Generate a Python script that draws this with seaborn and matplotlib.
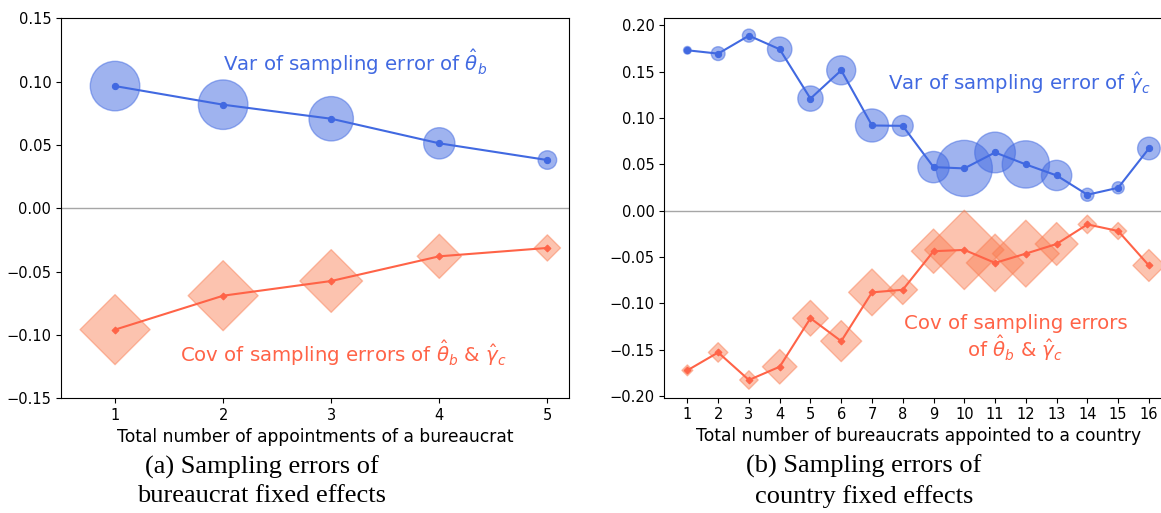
import matplotlib
matplotlib.use("Agg")
import matplotlib.pyplot as plt
import numpy as np
import pandas as pd
import seaborn as sns

# ---- panel (a): bureaucrat fixed effects, by number of appointments ----
appointments = [1, 2, 3, 4, 5]
var_theta = [0.0965, 0.0818, 0.0707, 0.0513, 0.0381]
cov_theta_gamma_a = [-0.0958, -0.0690, -0.0574, -0.0379, -0.0313]
share_a = [29.9, 29.9, 24.0, 11.9, 4.2]          # % of observations

# ---- panel (b): country fixed effects, by number of bureaucrats ----
bureaucrats = list(range(1, 17))
var_gamma = [0.1731, 0.1695, 0.1889, 0.1742, 0.1210, 0.1515, 0.0920, 0.0916,
             0.0471, 0.0457, 0.0629, 0.0500, 0.0381, 0.0173, 0.0248, 0.0672]
cov_theta_gamma_b = [-0.1721, -0.1528, -0.1825, -0.1682, -0.1159, -0.1406,
                     -0.0880, -0.0852, -0.0436, -0.0422, -0.0562, -0.0462,
                     -0.0358, -0.0147, -0.0218, -0.0590]
share_b = [0.43, 1.38, 1.24, 4.33, 4.62, 6.10, 7.93, 3.16,
           7.12, 22.81, 11.99, 16.20, 6.67, 1.24, 1.06, 3.71]   # % of observations

xlabels = ["Total number of appointments of a bureaucrat",
           "Total number of bureaucrats appointed to a country"]
captions = ["(a) Sampling errors of\nbureaucrat fixed effects",
            "(b) Sampling errors of\ncountry fixed effects"]

BLUE = "#4169E1"
RED = "#FF6347"
RED_FILL = "#FA7A4E"

W, H = 1161, 513
fig = plt.figure(figsize=(W / 100, H / 100), dpi=100)
ax_a = fig.add_axes([61 / W, 1 - 398.3 / H, 508 / W, 380 / H])
ax_b = fig.add_axes([664.3 / W, 1 - 397.7 / H, 507.7 / W, 379.4 / H])


def draw_panel(ax, x, var, cov, share, area_per_pct):
    df = pd.DataFrame({"x": x, "var": var, "cov": cov, "share": share})
    smax = max(share)
    size_kw = dict(size="share", sizes=(0, area_per_pct * smax),
                   size_norm=(0, smax), legend=False)
    sns.scatterplot(data=df, x="x", y="var", marker="o", color=BLUE,
                    edgecolor=BLUE, linewidth=1.0, alpha=0.5, ax=ax, **size_kw)
    sns.scatterplot(data=df, x="x", y="cov", marker="D", color=RED_FILL,
                    edgecolor=RED_FILL, linewidth=1.0, alpha=0.45, ax=ax, **size_kw)
    sns.lineplot(data=df, x="x", y="var", color=BLUE, lw=1.5, marker="o",
                 markersize=4.5, markeredgecolor=BLUE, errorbar=None, ax=ax)
    sns.lineplot(data=df, x="x", y="cov", color=RED, lw=1.5, marker="D",
                 markersize=3.5, markeredgecolor=RED, errorbar=None, ax=ax)
    ax.axhline(0, color="#a6a6a6", lw=1.0, zorder=0.5)
    ax.set_ylabel("")
    ax.tick_params(labelsize=10.5)


draw_panel(ax_a, appointments, var_theta, cov_theta_gamma_a, share_a, 42.5)
draw_panel(ax_b, bureaucrats, var_gamma, cov_theta_gamma_b, share_b, 71.5)

ax_a.set_xlim(0.5, 5.2)
ax_a.set_ylim(-0.15, 0.15)
ax_a.set_xticks(appointments)
ax_a.set_yticks(np.arange(-0.15, 0.151, 0.05))

ax_b.set_xlim(0.25, 16.75)
ax_b.set_ylim(-0.2016, 0.2076)
ax_b.set_xticks(bureaucrats)
ax_b.set_yticks(np.arange(-0.20, 0.201, 0.05))

for ax, lab in zip([ax_a, ax_b], xlabels):
    ax.set_xlabel(lab, fontsize=12.3, labelpad=3.5)

ax_a.text(2.0, 0.1155, r"Var of sampling error of $\hat{\theta}_b$",
          color=BLUE, fontsize=14.2, ha="left", va="center")
ax_a.text(1.6, -0.114, r"Cov of sampling errors of $\hat{\theta}_b$ & $\hat{\gamma}_c$",
          color=RED, fontsize=14.2, ha="left", va="center")
ax_b.text(7.52, 0.1376, r"Var of sampling error of $\hat{\gamma}_c$",
          color=BLUE, fontsize=14.2, ha="left", va="center")
ax_b.text(11.66, -0.138, "Cov of sampling errors\n" + r"of $\hat{\theta}_b$ & $\hat{\gamma}_c$",
          color=RED, fontsize=14.2, ha="center", va="center", multialignment="center",
          linespacing=1.0)

for xc, cap in zip([262 / W, 864 / W], captions):
    fig.text(xc, 1 - 481.5 / H, cap, ha="center", va="center",
             fontsize=19, family="Liberation Serif", linespacing=1.38)

fig.savefig("out.png", dpi=100)
